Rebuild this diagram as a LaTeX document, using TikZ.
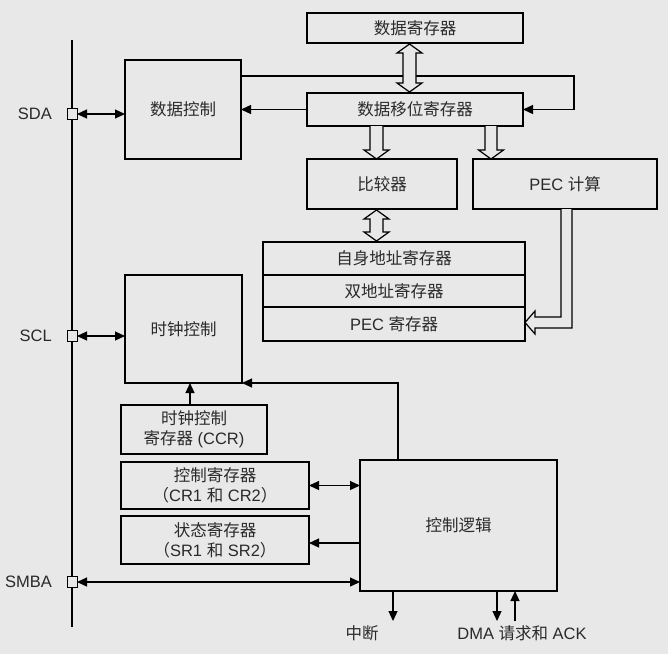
\documentclass[tikz,border=0pt]{standalone}
\usepackage{fontspec}
\setmainfont{Liberation Sans}
\newfontfamily\cjk{Noto Sans CJK SC}
\usetikzlibrary{arrows.meta,calc}
\definecolor{bg}{HTML}{E8E8E8}
\definecolor{txt}{HTML}{2A2A2A}
\newcommand\zh[1]{{\cjk #1}}
\begin{document}
\begin{tikzpicture}[x=1pt,y=-1pt,
  blk/.style={draw, line width=1.3pt, inner sep=0pt, outer sep=0pt, text=txt, font=\fontsize{16.5}{20}\selectfont, align=center},
  pin/.style={draw, fill=bg, line width=1pt, minimum width=10pt, minimum height=10.5pt, inner sep=0pt, outer sep=0pt},
  con/.style={line width=1.2pt, -{Triangle[length=10pt,width=9pt]}},
  bicon/.style={line width=1.2pt, {Triangle[length=10pt,width=9pt]}-{Triangle[length=10pt,width=9pt]}},
  hollow/.style={draw, fill=bg, line width=1.2pt, line join=miter},
  lbl/.style={text=txt, font=\fontsize{16.5}{20}\selectfont, inner sep=0pt}]

\fill[bg] (0,0) rectangle (668,654);
\useasboundingbox (0,0) rectangle (668,654);

% bus
\coordinate (busT) at (72,40);
\coordinate (busB) at (72,627);
\draw[line width=2pt] (busT) -- (busB);

% blocks
\node[blk, minimum width=116pt, minimum height=99pt] (dc) at (183,109.5) {\zh{数据控制}};
\node[blk, minimum width=216pt, minimum height=30pt] (dr) at (415,28) {\zh{数据寄存器}};
\node[blk, minimum width=216pt, minimum height=33pt] (dsr) at (415,109.5) {\zh{数据移位寄存器}};
\node[blk, minimum width=150pt, minimum height=50pt] (cmp) at (382,184) {\zh{比较器}};
\node[blk, minimum width=184pt, minimum height=50pt] (pec) at (565,184) {PEC \zh{计算}};
\node[blk, minimum width=262pt, minimum height=33pt] (oar) at (394,258.5) {\zh{自身地址寄存器}};
\node[blk, minimum width=262pt, minimum height=32pt] (dar) at (394,291) {\zh{双地址寄存器}};
\node[blk, minimum width=262pt, minimum height=34pt] (per) at (394,324) {PEC \zh{寄存器}};
\draw[line width=2pt] (per.north west) -- (per.north east);
\node[blk, minimum width=117pt, minimum height=108pt] (cc) at (183.5,329) {\zh{时钟控制}};
\node[blk, minimum width=146pt, minimum height=49pt] (ccr) at (194,429.5) {\zh{时钟控制}\\\zh{寄存器} (CCR)};
\node[blk, minimum width=188pt, minimum height=47pt] (cr) at (215,485.5) {\zh{控制寄存器}\\\zh{（}CR1 \zh{和} CR2\zh{）}};
\node[blk, minimum width=188pt, minimum height=48pt] (sr) at (215,540) {\zh{状态寄存器}\\\zh{（}SR1 \zh{和} SR2\zh{）}};
\node[blk, minimum width=197pt, minimum height=131pt] (cl) at (458.5,525.5) {\zh{控制逻辑}};

% pins and labels
\node[pin] (sda) at (72,114) {};
\node[pin] (scl) at (72,336) {};
\node[pin] (smba) at (72,582) {};
\node[lbl, anchor=east] (sdal) at (52,114) {SDA};
\node[lbl, anchor=east] (scll) at (52,336) {SCL};
\node[lbl, anchor=east] (smbal) at (52,582) {SMBA};

% connectors
\draw[bicon] (sda.east) -- (sda.east -| dc.west);
\draw[con] (dsr.west) -- (dsr.west -| dc.east);
\coordinate (lp) at (574,76);
\draw[con] (dc.east |- lp) -- (lp) -- (lp |- dsr.east) -- (dsr.east);
\draw[bicon] (scl.east) -- (scl.east -| cc.west);
\coordinate (ccx) at (190,0);
\draw[con] (ccr.north -| ccx) -- (cc.south -| ccx);
\coordinate (clc) at (398,383);
\draw[con] (cl.north -| clc) -- (clc) -- (cc.south east);
\draw[bicon] (cr.east) -- (cr.east -| cl.west);
\coordinate (srA) at ([yshift=-3pt]sr.east);
\draw[con] (srA -| cl.west) -- (srA);
\draw[bicon] (smba.east) -- (smba.east -| cl.west);
\coordinate (intE) at (393,621);
\draw[con] (cl.south -| intE) -- (intE);
\coordinate (dmaD) at (497,621);
\draw[con] (cl.south -| dmaD) -- (dmaD);
\coordinate (dmaU) at (515,621);
\draw[con] (dmaU) -- (cl.south -| dmaU);
\node[lbl] (intl) at (362,633) {\zh{中断}};
\node[lbl] (dmal) at (522,633) {DMA \zh{请求和} ACK};

% hollow (bus) arrows
\draw[hollow] (409.5,44) -- (422,53) -- (416,53) -- (416,83) -- (422,83) -- (409.5,92) -- (397,83) -- (403,83) -- (403,53) -- (397,53) -- cycle;
\draw[hollow] (370,126) -- (370,150) -- (364,150) -- (376.5,159) -- (389,150) -- (383,150) -- (383,126);
\draw[hollow] (485,126) -- (485,150) -- (478.5,150) -- (491,159) -- (503.5,150) -- (497,150) -- (497,126);
\draw[hollow] (376.5,210) -- (389,219) -- (383,219) -- (383,232) -- (389,232) -- (376.5,241) -- (364,232) -- (370,232) -- (370,219) -- (364,219) -- cycle;
\draw[hollow] (561,209) -- (561,317) -- (535,317) -- (535,311) -- (525,322.5) -- (535,334) -- (535,328) -- (572,328) -- (572,209);
\end{tikzpicture}
\end{document}
